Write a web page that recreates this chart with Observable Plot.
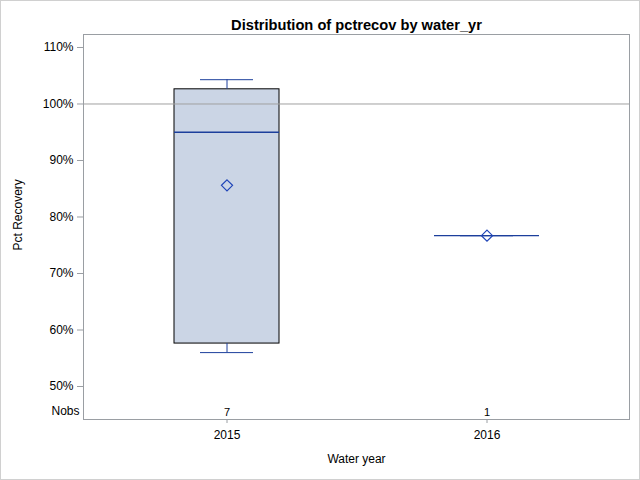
<!DOCTYPE html>
<html>
<head>
<meta charset="utf-8">
<script src="https://cdn.jsdelivr.net/npm/d3@7"></script>
<script src="https://cdn.jsdelivr.net/npm/@observablehq/plot@0.6"></script>
<style>
  html, body { margin: 0; padding: 0; background: white; }
  #wrap { position: relative; width: 640px; height: 480px; overflow: hidden; }
  #border { position: absolute; left: 0; top: 0; width: 640px; height: 480px; box-sizing: border-box; border: 1px solid #d0d0d0; pointer-events: none; }
  svg { display: block; }
</style>
</head>
<body>
<div id="wrap"><div id="chart"></div><div id="border"></div></div>
<script>
// ---- data ----
const title = "Distribution of pctrecov by water_yr";
const years = ["2015", "2016"];
const nobs = [7, 1];
const whiskerLow = [56.0, 76.7];
const q1 = [57.6, 76.7];
const median = [95.0, 76.7];
const mean = [85.6, 76.7];
const q3 = [102.6, 76.7];
const whiskerHigh = [104.3, 76.7];
const yTicks = [50, 60, 70, 80, 90, 100, 110];
const refLine = [100];
const xLabel = "Water year";
const yLabel = "Pct Recovery";
const nobsLabel = "Nobs";

const rows = years.map((y, i) => ({
  year: y, n: nobs[i], lo: whiskerLow[i], q1: q1[i], median: median[i],
  mean: mean[i], q3: q3[i], hi: whiskerHigh[i]
}));

const blue = "#1c3f9c";
const gray = "#9a9ea3";

const chart = Plot.plot({
  width: 640,
  height: 480,
  marginLeft: 83,
  marginRight: 11,
  marginTop: 34,
  marginBottom: 61,
  style: { fontFamily: "'Liberation Sans', Arial, sans-serif", fontSize: "12px", color: "black", background: "white" },
  x: { type: "band", domain: years, paddingInner: 0.598, paddingOuter: 0.345, label: null },
  y: { domain: [44.16, 112.3], label: null },
  marks: [
    Plot.barY(rows.filter(d => d.q3 > d.q1), { x: "year", y1: "q1", y2: "q3", fill: "#cbd5e5", stroke: "black", strokeWidth: 1 }),
    Plot.ruleY(refLine, { stroke: "#a0a0a0", strokeWidth: 1 }),
    Plot.ruleX(rows, { x: "year", y1: "q3", y2: "hi", stroke: blue, strokeWidth: 1 }),
    Plot.ruleX(rows, { x: "year", y1: "lo", y2: "q1", stroke: blue, strokeWidth: 1 }),
    Plot.tickY(rows, { x: "year", y: "hi", stroke: blue, strokeWidth: 1, insetLeft: 26, insetRight: 26 }),
    Plot.tickY(rows, { x: "year", y: "lo", stroke: blue, strokeWidth: 1, insetLeft: 26, insetRight: 26 }),
    Plot.tickY(rows, { x: "year", y: "median", stroke: blue, strokeWidth: 1.3 }),
    Plot.dot(rows, { x: "year", y: "mean", symbol: "diamond2", r: 5, stroke: "#1f44b8", fill: "none", strokeWidth: 1.2 }),
    Plot.frame({ stroke: gray, strokeWidth: 1 }),
    Plot.axisY({ ticks: yTicks, tickFormat: d => d + "%", tickSize: 6, tickPadding: 4, stroke: gray, fill: "black", fontSize: 12, label: null }),
    Plot.axisX({ tickSize: 4, tickPadding: 7, stroke: gray, fill: "black", fontSize: 12, label: null }),
    Plot.text(rows, { x: "year", text: d => String(d.n), frameAnchor: "bottom", lineAnchor: "middle", dy: -7.5, fontSize: 11, fill: "black" }),
    Plot.text([nobsLabel], { frameAnchor: "bottom-left", lineAnchor: "middle", dx: -4, dy: -8.5, textAnchor: "end", fontSize: 12, fill: "black" }),
    Plot.text([xLabel], { frameAnchor: "bottom", lineAnchor: "middle", dy: 40, fontSize: 12, fill: "black" }),
    Plot.text([yLabel], { frameAnchor: "left", lineAnchor: "middle", rotate: -90, dx: -65, dy: 23.5, fontSize: 12, fill: "black" }),
    Plot.text([title], { frameAnchor: "top", lineAnchor: "middle", dy: -9.5, fontSize: 14.67, fontWeight: "bold", fill: "black" })
  ]
});
document.getElementById("chart").appendChild(chart);
</script>
</body>
</html>
